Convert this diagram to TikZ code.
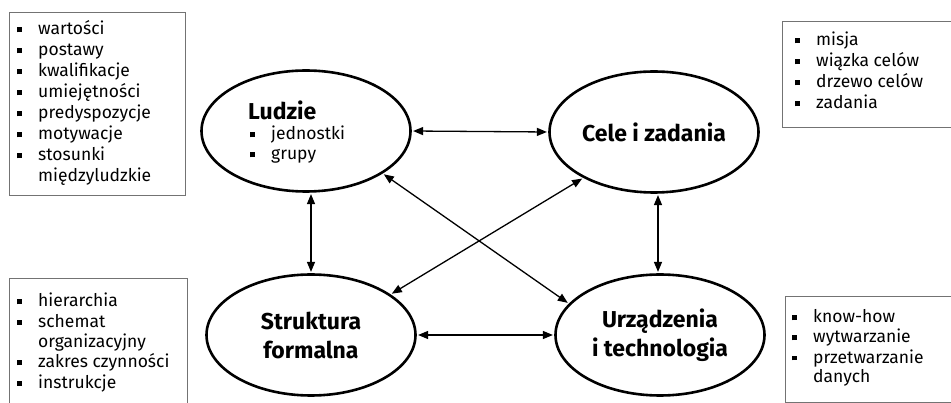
\documentclass[tikz,border=0pt]{standalone}
\usepackage{fontspec}
\setmainfont{Fira Sans}
\usetikzlibrary{shapes.geometric,arrows.meta}

% znacznik punktu listy i wciecie kolejnego wiersza
\newcommand{\kw}{\makebox[21pt][l]{\raisebox{2.5pt}{\rule{5pt}{5pt}}}}
\newcommand{\wc}{\hspace*{21pt}}

\tikzset{
  obszar/.style={draw, ellipse, line width=2.6pt, minimum width=209pt,
    minimum height=121pt, inner sep=0pt, align=center,
    font=\fontsize{23}{29}\selectfont\bfseries},
  etykieta/.style={anchor=base west, inner sep=0pt,
    font=\fontsize{23}{29}\selectfont\bfseries},
  pozycja/.style={anchor=base west, inner sep=0pt,
    font=\fontsize{17.5}{21}\selectfont},
  ramka/.style={draw=black!55, line width=0.9pt},
  wiaz/.style={{Triangle[length=10pt,width=8pt]}-{Triangle[length=10pt,width=8pt]},
    line width=1.3pt, shorten <=1.3pt, shorten >=1.3pt}
}

\begin{document}
\begin{tikzpicture}[x=1pt,y=-1pt]
\useasboundingbox (0,0) rectangle (951,403);
\clip (0,0) rectangle (951,403);

% ramki z opisami
\draw[ramka] (9,12) rectangle (185,195);
\draw[ramka] (782,21) rectangle (960,127);
\draw[ramka] (9,278) rectangle (187,410);
\draw[ramka] (785,296) rectangle (960,402);

\foreach \t [count=\i from 0] in {{\kw wartości},{\kw postawy},
  {\kw kwalifikacje},{\kw umiejętności},{\kw predyspozycje},
  {\kw motywacje},{\kw stosunki},{\wc międzyludzkie}}
  \node[pozycja] (lg\i) at (17,35+21*\i) {\t};

\foreach \t [count=\i from 0] in {{\kw misja},{\kw wiązka celów},
  {\kw drzewo celów},{\kw zadania}}
  \node[pozycja] (pg\i) at (795,46+21*\i) {\t};

\foreach \t [count=\i from 0] in {{\kw hierarchia},{\kw schemat},
  {\wc organizacyjny},{\kw zakres czynności},{\kw instrukcje}}
  \node[pozycja] (ld\i) at (17,307+20.3*\i) {\t};

\foreach \t [count=\i from 0] in {{\kw know-how},{\kw wytwarzanie},
  {\kw przetwarzanie},{\wc danych}}
  \node[pozycja] (pd\i) at (792,323+20*\i) {\t};

% cztery obszary
\node[obszar] (ludzie) at (306,131) {};
\node[obszar] (cele) at (654,132) {Cele i zadania};
\node[obszar] (struktura) at (311,335) {Struktura\\formalna};
\node[obszar] (urzadzenia) at (660,335) {Urządzenia\\i technologia};

\node[etykieta] (ludzienapis) at (248,120) {Ludzie};
\node[pozycja] (ludzie1) at (250,140) {\kw jednostki};
\node[pozycja] (ludzie2) at (250,160) {\kw grupy};

% powiazania
\draw[wiaz] (ludzie.east) -- (cele.west);
\draw[wiaz] (struktura.east) -- (urzadzenia.west);
\draw[wiaz] (ludzie.south -| struktura.north) -- (struktura.north);
\draw[wiaz] (cele.south -| 658,0) -- (urzadzenia.north -| 658,0);
\draw[wiaz] (ludzie.-29) -- (urzadzenia.161);
\draw[wiaz] (cele.-147) -- (struktura.27);
\end{tikzpicture}
\end{document}
